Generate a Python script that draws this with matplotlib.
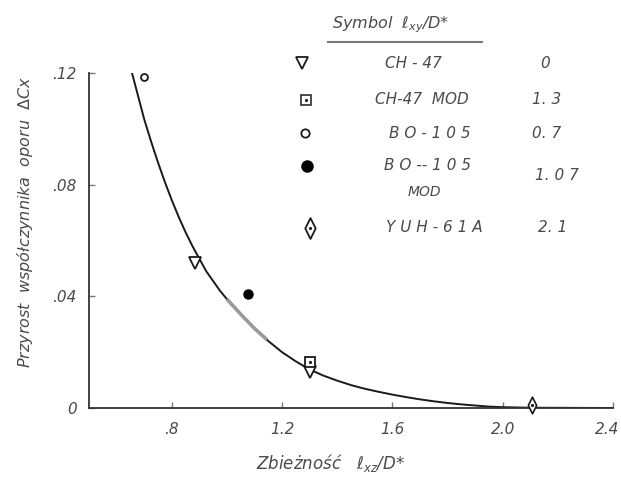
import numpy as np
import matplotlib.pyplot as plt
import matplotlib.transforms as mtransforms
from matplotlib.path import Path

# curve
curve_x = [0.656, 0.68, 0.70, 0.725, 0.75, 0.775, 0.80, 0.825, 0.85, 0.875, 0.90,
           0.925, 0.95, 0.975, 1.00, 1.05, 1.10, 1.15, 1.20, 1.25, 1.30, 1.35,
           1.40, 1.45, 1.50, 1.55, 1.60, 1.65, 1.70, 1.75, 1.80, 1.85, 1.90,
           1.95, 2.00, 2.10, 2.40]
curve_y = [0.120, 0.111, 0.1035, 0.0955, 0.088, 0.081, 0.0745, 0.0685, 0.063,
           0.058, 0.0535, 0.049, 0.0455, 0.042, 0.039, 0.0336, 0.0285, 0.0240,
           0.0200, 0.0167, 0.0138, 0.0116, 0.0098, 0.0082, 0.0069, 0.0058,
           0.0048, 0.0039, 0.0031, 0.0024, 0.0018, 0.0013, 0.0009, 0.0005,
           0.0003, 0.0001, 0.0]
# light (scanned) piece of the curve
gray_x = [1.00, 1.05, 1.10, 1.145]
gray_y = [0.039, 0.0336, 0.0285, 0.0245]

# measured points
ch47_x = [0.885, 1.30]
ch47_y = [0.052, 0.0128]
ch47mod_x = [1.30]
ch47mod_y = [0.0165]
bo105_x = [0.70]
bo105_y = [0.1185]
bo105mod_x = [1.075]
bo105mod_y = [0.041]
yuh_x = [2.107]
yuh_y = [0.0012]

xticks = [0.8, 1.2, 1.6, 2.0, 2.4]
xtick_labels = ['.8', '1.2', '1.6', '2.0', '2.4']
yticks = [0, 0.04, 0.08, 0.12]
ytick_labels = ['0', '.04', '.08', '.12']

leg_names = ['CH - 47', 'CH-47  MOD', 'B O - 1 0 5', 'B O -- 1 0 5', 'Y U H - 6 1 A']
leg_values = ['0', '1. 3', '0. 7', '1. 0 7', '2. 1']

W, H = 621, 479
ink = '#1a1a1a'
txt = '#4a4a4a'
fam = ['DejaVu Sans']
tf = dict(family=fam, style='italic', color=txt)

# tall diamond
tall_diamond = Path([(0, 1), (0.5, 0), (0, -1), (-0.5, 0), (0, 1)],
                    [Path.MOVETO, Path.LINETO, Path.LINETO, Path.LINETO, Path.CLOSEPOLY])


def fx(px):
    return px / W


def fy(py):
    return 1 - py / H


fig = plt.figure(figsize=(6.21, 4.79), dpi=100)
ax = fig.add_axes([fx(89), fy(408), (613 - 89) / W, (408 - 73) / H])

ax.plot(curve_x, curve_y, color=ink, lw=1.4, zorder=2)
ax.plot(gray_x, gray_y, color='#9a9a9a', lw=2.6, solid_capstyle='butt', zorder=3)

ax.plot(ch47_x, ch47_y, 'v', ms=8.5, mfc='white', mec=ink, mew=1.3, zorder=4, clip_on=False)
ax.plot(ch47mod_x, ch47mod_y, 's', ms=7.5, mfc='white', mec=ink, mew=1.3, zorder=5, clip_on=False)
ax.plot(ch47mod_x, ch47mod_y, '.', ms=2.5, color=ink, zorder=6, clip_on=False)
ax.plot(bo105_x, bo105_y, 'o', ms=5, mfc='white', mec=ink, mew=1.3, zorder=4, clip_on=False)
ax.plot(bo105mod_x, bo105mod_y, 'o', ms=6.5, color='black', zorder=4, clip_on=False)
ax.plot(yuh_x, yuh_y, marker=tall_diamond, ms=12, mfc='white', mec=ink, mew=1.2,
        ls='none', zorder=4, clip_on=False)
ax.plot(yuh_x, yuh_y, '.', ms=2.5, color=ink, zorder=5, clip_on=False)

ax.set_xlim(0.5, 2.4)
ax.set_ylim(0, 0.12)
ax.set_xticks(xticks)
ax.set_xticklabels(xtick_labels)
ax.set_yticks(yticks)
ax.set_yticklabels(ytick_labels)
ax.tick_params(direction='in', length=4, width=1, color='#777777', labelsize=11,
               labelcolor=txt)
ax.tick_params(axis='x', pad=10)
ax.tick_params(axis='y', pad=9)
for lab in ax.get_xticklabels() + ax.get_yticklabels():
    lab.set_family(fam)
    lab.set_style('italic')
last = ax.get_xticklabels()[-1]
last.set_transform(last.get_transform() +
                   mtransforms.ScaledTranslation(-6 / 100, 0, fig.dpi_scale_trans))
for s in ['top', 'right']:
    ax.spines[s].set_visible(False)
for s in ['left', 'bottom']:
    ax.spines[s].set_color('#333333')
    ax.spines[s].set_linewidth(1.3)

# axis titles
fig.text(fx(25), fy(222), 'Przyrost  współczynnika  oporu  $\\Delta$Cx', rotation=90,
         ha='center', va='center', fontsize=11.5, **tf)
fig.text(fx(330), fy(463), 'Zbieżność   ℓ$_{xz}$/D*', ha='center', va='center',
         fontsize=12, **tf)

# symbol table
fig.text(fx(332), fy(25), 'Symbol  ℓ$_{xy}$/D*', ha='left', va='center', fontsize=11.5, **tf)
fig.add_artist(plt.Line2D([fx(328), fx(482)], [fy(42), fy(42)], color='#777777', lw=1.5))

sym_y = [63, 100, 133, 166, 228]
sym_x = [302, 306, 305, 307, 310]
name_x = [413, 422, 430, 428, 434]
val_x = [540, 532, 532, 535, 538]
val_y = [63, 100, 133, 175, 228]
styles = [dict(marker='v', ms=8, mfc='white', mec=ink, mew=1.3),
          dict(marker='s', ms=7, mfc='white', mec=ink, mew=1.1),
          dict(marker='o', ms=6, mfc='white', mec=ink, mew=1.3),
          dict(marker='o', ms=8, mfc='black', mec='black'),
          dict(marker=tall_diamond, ms=15, mfc='white', mec=ink, mew=1.3)]
for i in range(len(leg_names)):
    fig.add_artist(plt.Line2D([fx(sym_x[i])], [fy(sym_y[i])], ls='none', **styles[i]))
    fig.text(fx(name_x[i]), fy(sym_y[i]), leg_names[i], ha='center', va='center',
             fontsize=11, **tf)
    fig.text(fx(val_x[i]), fy(val_y[i]), leg_values[i], ha='left', va='center',
             fontsize=11, **tf)
fig.add_artist(plt.Line2D([fx(306)], [fy(100)], ls='none', marker='.', ms=2.5, color=ink))
fig.add_artist(plt.Line2D([fx(310)], [fy(228)], ls='none', marker='.', ms=2.5, color=ink))
fig.text(fx(424), fy(192), 'MOD', ha='center', va='center', fontsize=10, **tf)

fig.savefig('out.png', dpi=100)
